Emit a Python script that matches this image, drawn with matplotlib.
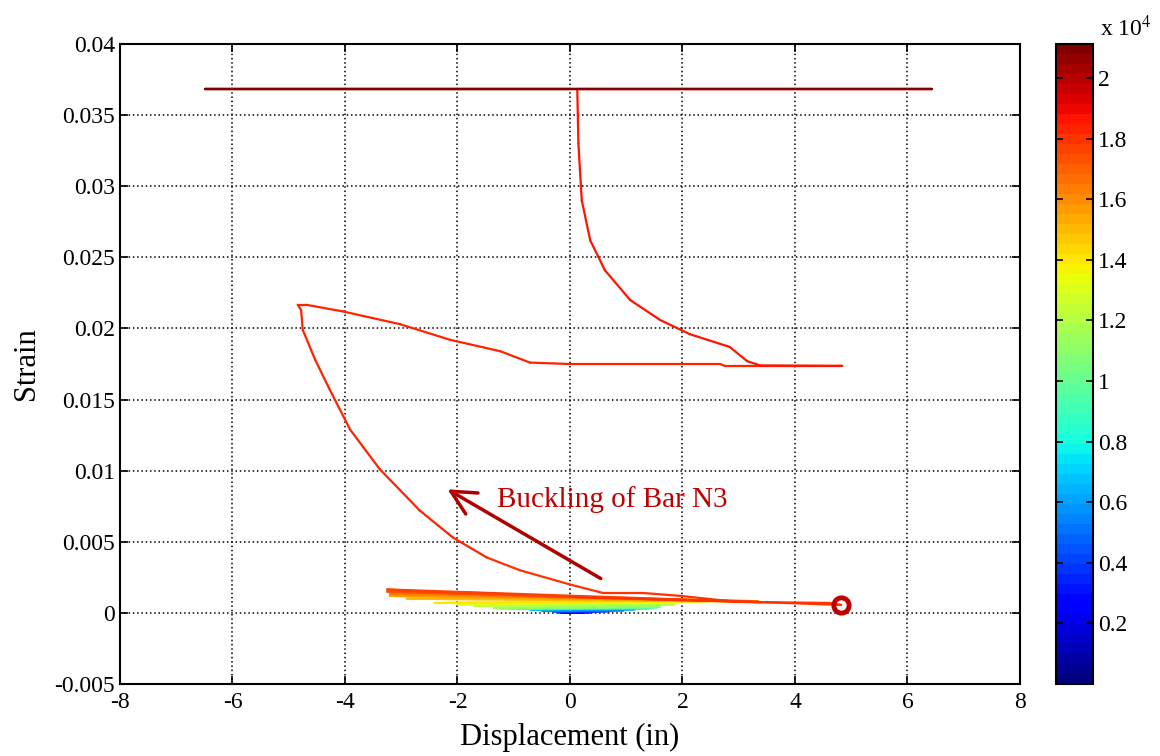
import numpy as np
import matplotlib
matplotlib.use("Agg")
import matplotlib.pyplot as plt
from matplotlib.collections import LineCollection
from matplotlib.colors import Normalize
from matplotlib.cm import ScalarMappable

plt.rcParams['font.family'] = ['Liberation Serif', 'DejaVu Serif']
plt.rcParams['mathtext.fontset'] = 'stix'
plt.rcParams['axes.unicode_minus'] = False

# sample index of each key point (drives the colour)
step = [0, 400, 800, 1200, 1600, 2000, 2400, 2800, 3200,
        3800, 4400, 5000, 5600, 6200, 6800, 7300, 7800,
        8500, 9200, 9900, 10500, 11000, 11500,
        12000, 12400, 12800, 13200, 13600, 14000,
        14500, 14900, 15300, 15700, 16100, 16500, 16900, 17200,
        17500, 17700, 17750, 17800, 17850, 17900, 17950, 18000,
        18020, 18040, 18060, 18080, 18100, 18120, 18140, 18160, 18180, 18200,
        18220, 18240, 18260, 18280, 18300, 18310, 18315,
        18320, 18340, 18360, 18380, 18400, 18420, 18440, 18460, 18470, 18490,
        18500, 18510, 18520, 18530, 18540, 18550, 18560, 18570, 18580, 18590,
        18600, 19500, 20300, 20800, 21000, 21100]

displacement = [0.00, 0.15, -0.10, 0.25, -0.15, 0.35, -0.20, 0.40, 0.05,
                0.70, -0.30, 0.95, -0.50, 1.15, -0.70, 1.40, -0.90,
                1.45, -1.10, 1.55, -1.25, 1.60, -1.35,
                1.85, -1.70, 2.40, -2.00, 2.45, -2.40,
                2.90, -2.90, 3.20, -3.20, 3.35, -3.20, 3.30, -3.25,
                3.40, -3.25, -2.50, -1.60, 0.00, 2.00, 3.50, 4.82,
                4.62, 2.97, 1.96, 1.30, 0.59, 0.00, -0.89, -1.48, -2.08, -2.67,
                -3.38, -3.91, -4.27, -4.53, -4.75, -4.78, -4.84,
                -4.68, -4.04, -3.02, -2.13, -1.24, -0.71, 0.00, 2.67, 2.75, 4.84,
                3.38, 3.15, 2.84, 2.13, 1.60, 1.07, 0.62, 0.36, 0.21, 0.15,
                0.13, 6.44, -6.49, 6.44, -6.49, 0.00]

strain = [0.00000, 0.00002, 0.00001, 0.00003, 0.00002, 0.00005, 0.00004, 0.00006, 0.00005,
          0.00012, 0.00010, 0.00018, 0.00016, 0.00025, 0.00022, 0.00033, 0.00028,
          0.00035, 0.00030, 0.00040, 0.00032, 0.00042, 0.00035,
          0.00060, 0.00050, 0.00085, 0.00060, 0.00082, 0.00070,
          0.00085, 0.00100, 0.00080, 0.00120, 0.00082, 0.00135, 0.00080, 0.00150,
          0.00075, 0.00165, 0.00148, 0.00140, 0.00112, 0.00090, 0.00075, 0.00056,
          0.00070, 0.00077, 0.00120, 0.00140, 0.00140, 0.00200, 0.00300, 0.00390, 0.00530, 0.00720,
          0.01010, 0.01290, 0.01570, 0.01780, 0.01990, 0.02130, 0.02166,
          0.02166, 0.02120, 0.02030, 0.01920, 0.01840, 0.01760, 0.01750, 0.01750, 0.01737, 0.01737,
          0.01740, 0.01770, 0.01870, 0.01960, 0.02060, 0.02200, 0.02410, 0.02620, 0.02900, 0.03300,
          0.03684, 0.03684, 0.03684, 0.03684, 0.03684, 0.03684]

marker_point = (4.82, 0.00056)
note_text = 'Buckling of Bar N3'
note_tail = (0.59, 0.00232)
note_head = (-2.22, 0.00879)

x_ticks = [-8, -6, -4, -2, 0, 2, 4, 6, 8]
y_ticks = [-0.005, 0, 0.005, 0.01, 0.015, 0.02, 0.025, 0.03, 0.035, 0.04]
y_labels = ['-0.005', '0', '0.005', '0.01', '0.015', '0.02', '0.025', '0.03', '0.035', '0.04']
cb_ticks = [2000, 4000, 6000, 8000, 10000, 12000, 14000, 16000, 18000, 20000]
cb_labels = ['0.2', '0.4', '0.6', '0.8', '1', '1.2', '1.4', '1.6', '1.8', '2']

fig = plt.figure(figsize=(11.6, 7.56), dpi=100)
ax = fig.add_axes([0.1034, 0.0952, 0.7759, 0.8466])
cax = fig.add_axes([0.9103, 0.0952, 0.0319, 0.8466])

cmap = plt.get_cmap('jet', 64)
norm = Normalize(vmin=1, vmax=21120)

pts = np.column_stack([displacement, strain])
segs = np.stack([pts[:-1], pts[1:]], axis=1)
lc = LineCollection(segs, cmap=cmap, norm=norm, linewidth=1.6, capstyle='round', joinstyle='round')
lc.set_array(np.array(step[:-1], dtype=float))
ax.add_collection(lc)

ax.plot(*marker_point, marker='o', mfc='none', mec='#C00000', ms=11, mew=3.5)

ax.annotate('', xy=note_head, xytext=note_tail,
            arrowprops=dict(arrowstyle='->,head_length=0.7,head_width=0.35',
                            color='#B00000', lw=2.5, mutation_scale=25))
ax.text(-1.3, 0.00795, note_text, color='#C00000', fontsize=21, va='center')

ax.set_xlim(-8, 8)
ax.set_ylim(-0.005, 0.04)
ax.set_xticks(x_ticks)
ax.set_yticks(y_ticks)
ax.set_yticklabels(y_labels)
ax.tick_params(direction='in', top=True, right=True, labelsize=17, length=6, width=1.2)
ax.tick_params(axis='x', pad=6)
ax.grid(True, color='black', linestyle=(0, (1, 1.8)), linewidth=1.1)
for s in ax.spines.values():
    s.set_linewidth(1.5)
ax.set_xlabel('Displacement (in)', fontsize=22, labelpad=7)
ax.set_ylabel('Strain', fontsize=22, labelpad=10)

cb = fig.colorbar(ScalarMappable(norm=norm, cmap=cmap), cax=cax)
cb.set_ticks(cb_ticks)
cb.set_ticklabels(cb_labels)
cb.ax.tick_params(direction='in', left=True, right=True, labelsize=17, length=5, width=1.2)
cb.outline.set_linewidth(1.5)
fig.text(0.948, 0.963, r'x 10$^{4}$', fontsize=17, ha='left', va='center')

fig.savefig('out.png', dpi=100)
